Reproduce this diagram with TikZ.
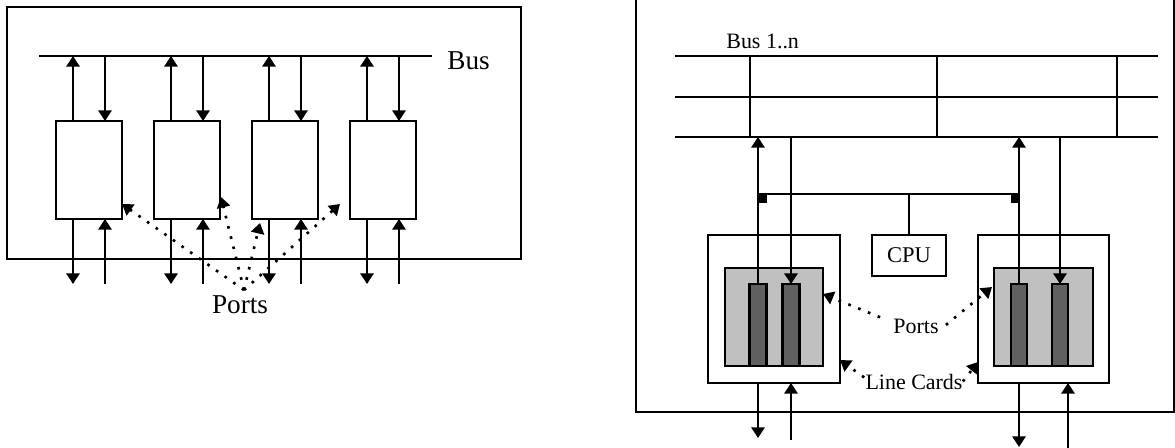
\documentclass[tikz,border=0pt]{standalone}
\usepackage{fontspec}
\setmainfont{Liberation Serif}
\usetikzlibrary{arrows.meta, calc}
\definecolor{cardgray}{HTML}{C0C0C0}
\definecolor{portgray}{HTML}{606060}

\begin{document}
\begin{tikzpicture}[
    x=0.02cm, y=-0.02cm,
    >={Triangle[width=7.5pt, length=6pt]},
    frame/.style={draw, line width=1.2pt},
    link/.style={line width=1.2pt},
    portbox/.style={
        draw, line width=1.3pt, minimum width=1.32cm,
        minimum height=1.96cm, inner sep=0pt, outer sep=0pt
    },
    cardbox/.style={
        draw, line width=1.2pt, fill=white, minimum width=2.64cm,
        minimum height=2.96cm, inner sep=0pt, outer sep=0pt
    },
    slotbox/.style={
        draw, line width=1.2pt, fill=cardgray, minimum width=1.96cm,
        minimum height=1.96cm, inner sep=0pt, outer sep=0pt
    },
    portbar/.style={
        draw, line width=1.2pt, fill=portgray, minimum width=0.34cm,
        minimum height=1.64cm, inner sep=0pt, outer sep=0pt
    },
    cpubox/.style={
        draw, line width=1.2pt, minimum width=1.48cm, minimum height=0.82cm,
        inner sep=0pt, outer sep=0pt, font=\fontsize{12.8}{15}\selectfont
    },
    pointer/.style={->, line width=1.5pt, dash pattern=on 1.5pt off 4.5pt},
    bigtext/.style={font=\fontsize{15.5}{18}\selectfont, inner sep=0pt},
    smalltext/.style={font=\fontsize{12.5}{15}\selectfont, inner sep=0pt},
]

\useasboundingbox (0,0) rectangle (1175,448);

% ===================================================================
% LEFT PANEL -- shared bus
% ===================================================================
\begin{scope}

    % Frame
    \draw[frame] (7,7) rectangle (521,259);

    % Bus
    \coordinate (bus-w) at (39,56);
    \coordinate (bus-e) at (432,56);
    \draw[link, line width=1.4pt] (bus-w) -- (bus-e);
    \node[bigtext, anchor=base west] (bus-label) at (447,70) {Bus};

    % Port boxes with their links
    \foreach \i/\x in {1/89, 2/187, 3/285, 4/383} {
        \node[portbox] (port\i) at (\x,170) {};
        \coordinate (up\i) at ($(port\i.north)+(-16,0)$);
        \coordinate (dn\i) at ($(port\i.north)+(16,0)$);
        \draw[->, link] (up\i) -- (up\i |- bus-w);
        \draw[->, link] (dn\i |- bus-w) -- (dn\i);
        \coordinate (out\i) at ($(port\i.south)+(-16,0)$);
        \coordinate (in\i) at ($(port\i.south)+(16,65)$);
        \draw[->, link] (out\i) -- ++(0,65);
        \draw[->, link] (in\i) -- (in\i |- port\i.south);
    }

    % Ports label
    \node[bigtext, anchor=base] (ports-l) at (240,314) {Ports};
    \coordinate (hub-l) at (244,290);
    \draw[pointer] (hub-l) -- ($(port1.south east)+(0,-15)$);
    \draw[pointer] (hub-l) -- ($(port2.south east)+(1,-22)$);
    \draw[pointer] (hub-l) -- ($(port3.south west)+(8,4)$);
    \draw[pointer] (hub-l) -- ($(port4.south west)+(-10,-15)$);

\end{scope}

% ===================================================================
% RIGHT PANEL -- line cards on a multi-bus
% ===================================================================
\begin{scope}

    % Frame
    \draw[frame] (636,-6) rectangle (1174,412);

    % Bus rails
    \foreach \y [count=\k] in {56, 97, 137}
        \draw[link] (675,\y) coordinate (rail\k-w) -- (1158,\y) coordinate (rail\k-e);
    \foreach \x in {750, 937, 1117}
        \draw[link] (\x,56) -- (\x,137);
    \node[smalltext, anchor=base west] (bus-label-r) at (726,49) {Bus 1..n};

    % Line cards
    \node[cardbox] (card1) at (774,309) {};
    \node[slotbox] (slot1) at (774,317) {};
    \node[portbar] (c1p1) at (758,325) {};
    \node[portbar] (c1p2) at (791,325) {};

    \node[cardbox, minimum width=2.62cm] (card2) at (1043.5,309) {};
    \node[slotbox, minimum width=1.98cm] (slot2) at (1043.5,317) {};
    \node[portbar, minimum width=0.32cm] (c2p1) at (1019,325) {};
    \node[portbar, minimum width=0.32cm] (c2p2) at (1060,325) {};

    % CPU
    \node[cpubox] (cpu) at (909,255.5) {CPU};

    % Links to bus
    \draw[->, link] (c1p1.north) -- (c1p1.north |- rail3-w);
    \draw[->, link] (c1p2.north |- rail3-w) -- (c1p2.north);
    \draw[->, link] (c2p1.north) -- (c2p1.north |- rail3-w);
    \draw[->, link] (c2p2.north |- rail3-w) -- (c2p2.north);

    % Control line to CPU
    \path (c1p1.north) ++(0,-90) coordinate (ctl-w);
    \path (c2p1.north) ++(0,-90) coordinate (ctl-e);
    \draw[link] (ctl-w) -- (ctl-e);
    \draw[link] (cpu.north) -- (cpu.north |- ctl-w);
    \fill ($(ctl-w)+(1,0)$) rectangle ++(8,9);
    \fill ($(ctl-e)+(-8,0)$) rectangle ++(8,9);

    % External links
    \draw[->, link] (card1.south -| c1p1) -- ++(0,55);
    \coordinate (in-c1) at ($(card1.south -| c1p2)+(0,57)$);
    \draw[->, link] (in-c1) -- (in-c1 |- card1.south);
    \draw[->, link] (card2.south -| c2p1) -- ++(0,64);
    \coordinate (in-c2) at ($(card2.south -| c2p2.east)+(0,66)$);
    \draw[->, link] (in-c2) -- (in-c2 |- card2.south);

    % Labels
    \node[smalltext, anchor=base] (ports-r) at (916,334) {Ports};
    \node[smalltext, anchor=base] (cards-r) at (914,390) {Line Cards};
    \draw[pointer] ($(ports-r.north west)+(-13,-2)$) -- ($(slot1.east)+(0,-23)$);
    \draw[pointer] ($(ports-r.east)+(7,-2)$) -- ($(slot2.west)+(-2,-30)$);
    \draw[pointer] ($(cards-r.north west)+(-1,3)$) -- ($(card1.east)+(0,51)$);
    \draw[pointer] ($(cards-r.north east)+(0,7)$) -- ($(card2.west)+(0,53)$);

\end{scope}

\end{tikzpicture}
\end{document}
